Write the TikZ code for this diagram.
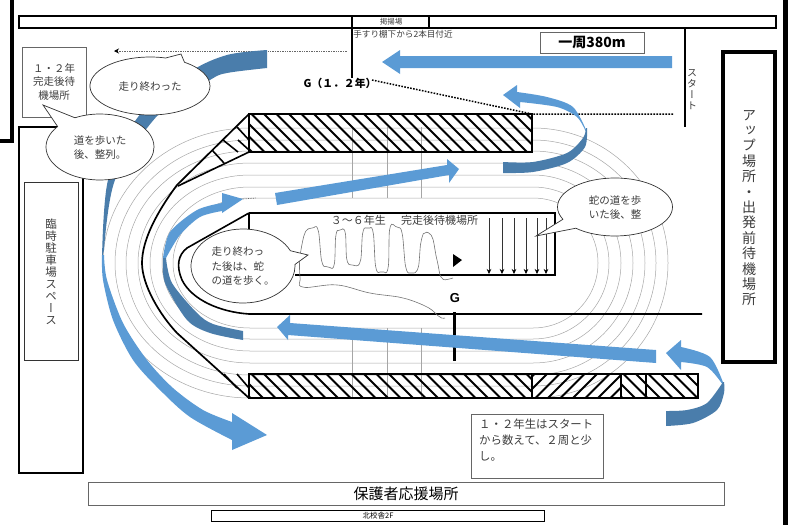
\documentclass[tikz,border=0pt]{standalone}
\usepackage{fontspec}
\setmainfont{Noto Sans CJK JP}
\newfontfamily\latinfont{Liberation Sans}
\newfontfamily\jpvert[RawFeature={+vert}]{Noto Sans CJK JP}
\usetikzlibrary{shapes.callouts,arrows.meta}
\definecolor{ribbonlight}{HTML}{5B9BD5}
\definecolor{ribbondark}{HTML}{4A7DAB}
\definecolor{inkgray}{HTML}{3C3C3C}
\newcommand{\hatchbox}[5]{\begin{scope}
\clip (#1,#2) rectangle (#3,#4);
\foreach \hx in {-60,-47.5,...,480} \draw[hatchline] ({#1+\hx},#2) -- ({#1+\hx+#5*(#4-#2)},#4);
\end{scope}}
\newcommand{\fsize}[1]{\fontsize{#1}{#1}\selectfont}
\tikzset{
  lane/.style={draw=black!35,line width=0.5pt},
  hatchline/.style={line width=1.9pt},
  outline/.style={line width=2.4pt},
  heavyframe/.style={draw,line width=2.6pt,inner sep=0pt},
  grayframe/.style={draw=black!60,line width=1pt,inner sep=0pt,text=inkgray},
  bubble/.style={ellipse callout,draw=black!80,fill=white,line width=0.7pt,inner sep=0pt,align=left,text=inkgray,font=\fsize{10.5},text depth=0pt},
}
\begin{document}
\begin{tikzpicture}[x=1pt,y=-1pt]
\useasboundingbox (0,0) rectangle (794,525);
\foreach \ry in {65,76,88,100,112,123,135}
  \draw[lane] (250,{263-\ry}) -- (533,{263-\ry}) arc[start angle=-90,end angle=90,x radius=\ry,y radius=\ry] -- (250,{263+\ry}) arc[start angle=90,end angle=270,x radius=\ry+12,y radius=\ry];
\foreach \gx in {352,387,421} {
  \draw[lane] (\gx,127) -- (\gx,198);
  \draw[lane] (\gx,328) -- (\gx,398);
}
\hatchbox{249}{114}{532}{152}{1}
\draw[outline] (249,114) rectangle (532,152);
\hatchbox{249}{374}{532}{398}{1}
\hatchbox{532}{374}{621}{398}{-1}
\hatchbox{621}{374}{646}{398}{1}
\hatchbox{646}{374}{698}{398}{1}
\draw[outline] (249,374) rectangle (698,398);
\draw[line width=1.5pt] (532,374) -- (532,398) (621,374) -- (621,398) (646,374) -- (646,398);
\draw[line width=1.6pt] (212,150) -- (224,163) (223,140) -- (238,152) (237,127) -- (249,140) (238,140) -- (249,150) (224,374) -- (237,388) (237,374) -- (249,388);
\draw[line width=1.6pt] (249,152) -- (178,186);
\draw[line width=1.7pt] (249,114) -- (177,185) .. controls (157,212) and (142,240) .. (142,263) .. controls (142,285) and (160,315) .. (177,333) -- (249,398);
\draw[line width=1.6pt] (249,213) -- (555,213) -- (555,275) -- (295,275);
\draw[line width=1.6pt] (249,213) -- (249,232);
\draw[line width=1.6pt] (249,213) -- (187,248) .. controls (178,255) and (176,266) .. (182,280) .. controls (192,300) and (220,312) .. (249,314) -- (702,314);
\draw[line width=3pt] (454,312) -- (454,361);
\node[font=\latinfont\bfseries\fsize{13}] (goalmark) at (455,298) {G};
\fill (453,254) -- (462,260) -- (453,267) -- cycle;
\foreach \ax in {489,502,514,526,537,546}
  \draw[black!80,line width=0.5pt,-{Stealth[length=5pt,width=4.5pt,black]}] (\ax,218) -- (\ax,274);
\draw[black!55,line width=0.6pt,rounded corners=2pt] plot[smooth,tension=0.55] coordinates {(453,278)(442,278)(437,260)(432,237)(425,233)(421,242)(418,268)(412,273)(406,268)(402,233)(397,227)(390,228)(388,268)(382,272)(376,268)(373,232)(368,228)(363,232)(360,262)(352,265)(347,260)(345,232)(340,230)(336,235)(334,265)(328,267)(322,262)(318,230)(312,228)(305,233)(300,257)(300,277)(303,287)(337,285)(370,293)(403,298)(427,307)(440,317)(445,318)};
\node[font=\fsize{11},text=inkgray] (innerlabel) at (404.5,220) {３〜６年生\hspace{1.4em}完走後待機場所};

\draw[outline] (19,16) rectangle (776,28);
\draw[outline] (352,16) -- (352,28) (429,16) -- (429,28);
\node[font=\fsize{7.5},text=inkgray] (flagarea) at (391,21.5) {掲揚場};
\node[font=\fsize{8.6},text=inkgray] (railnote) at (403,34) {手すり棚下から2本目付近};
\draw[line width=1.5pt] (352,28) -- (352,78);
\draw[line width=1.5pt] (685,28) -- (685,127);
\draw[line width=1.5pt,dash pattern=on 1.6pt off 1.4pt] (372,80) -- (532,114) -- (673,114);
\draw[black!60,line width=0.7pt,densely dotted,-{Stealth[length=5pt,width=5pt,black]}] (347,51) -- (114,51);
\draw[black!60,line width=0.7pt,densely dotted] (243,199) -- (256,198);
\node[font=\bfseries\fsize{10.8}] (goalfirst) at (340,83) {G（１．２年）};
\node[font=\jpvert\fsize{10},align=center,text=inkgray] (startlabel) at (692,90) {ス\\[1pt]タ\\[1pt]ー\\[1pt]ト};
\node[grayframe,minimum width=104pt,minimum height=21pt,font=\bfseries\fsize{14},text=black] (lapbox) at (592,42.5) {一周380m};

\draw[line width=3.5pt] (12,0) -- (12,141) -- (0,141);
\draw[line width=5pt] (785.5,0) -- (785.5,525);
\node[heavyframe,line width=3.5pt,minimum width=52pt,minimum height=310pt] (warmupbox) at (749,207) {};
\node[font=\jpvert\fsize{14},align=center,text=inkgray] (warmuptext) at (749,208) {ア\\[1.4pt]ッ\\[1.4pt]プ\\[1.4pt]場\\[1.4pt]所\\[1.4pt]・\\[1.4pt]出\\[1.4pt]発\\[1.4pt]前\\[1.4pt]待\\[1.4pt]機\\[1.4pt]場\\[1.4pt]所};
\node[heavyframe,minimum width=64pt,minimum height=346pt] (parkframe) at (51,300) {};
\node[draw=black!80,line width=0.8pt,minimum width=54pt,minimum height=178pt,inner sep=0pt] (parkbox) at (51,271) {};
\node[font=\jpvert\fsize{11.5},align=center,text=inkgray] (parktext) at (51,272) {臨\\[0.5pt]時\\[0.5pt]駐\\[0.5pt]車\\[0.5pt]場\\[0.5pt]ス\\[0.5pt]ペ\\[0.5pt]ー\\[0.5pt]ス};
\node[grayframe,minimum width=64pt,minimum height=70pt,align=center,font=\fsize{10.5}] (waitbox) at (54,82) {１・２年\\[3pt]完走後待\\[3pt]機場所};
\node[grayframe,minimum width=132pt,minimum height=64pt] (notebox) at (537,446) {};
\node[anchor=north west,inner sep=0pt,align=left,font=\fsize{11.4},text=inkgray] (notetext) at (479,419) {１・２年生はスタート\\[4.6pt]から数えて、２周と少\\[4.6pt]し。};
\node[grayframe,minimum width=636pt,minimum height=23pt,font=\fsize{15},text=black] (parentbox) at (406,493.5) {保護者応援場所};
\node[draw,line width=1.4pt,minimum width=333pt,minimum height=11.5pt,inner sep=0pt,font=\fsize{7.5}] (schoolbox) at (378,516) {北校舎2F};

\fill[ribbondark] plot[smooth] coordinates {(267,50)(227,55)(190,72)(138,117)(108,180)(102,258)} -- plot[smooth] coordinates {(104,250)(115,180)(158,115)(210,80)(227,73)(267,68)} -- cycle;
\fill[ribbonlight] plot[smooth] coordinates {(102,255)(103,280)(113,320)(133,360)(160,390)(190,417)(232,440)} -- (232,450) -- (267,435) -- (232,413) -- plot[smooth] coordinates {(232,422)(203,410)(173,388)(147,360)(123,323)(107,280)(104,255)} -- cycle;
\fill[ribbonlight] plot[smooth] coordinates {(163,258)(170,232)(197,210)(222,203)} -- (222,193) -- (243,199) -- (222,213) -- plot[smooth] coordinates {(222,211)(200,217)(180,235)(166,258)} -- cycle;
\fill[ribbondark] plot[smooth] coordinates {(163,258)(165,283)(187,320)(210,333)(243,340)} -- plot[smooth] coordinates {(243,331)(213,324)(197,313)(172,283)(166,258)} -- cycle;
\fill[ribbonlight] (275,193) -- (447,165) -- (447,159) -- (459,169) -- (449,183) -- (449,175) -- (277,205) -- cycle;
\fill[ribbonlight] plot[smooth] coordinates {(587,132)(573,107)(547,97)(517,92)} -- (517,85) -- (503,95) -- (520,108) -- plot[smooth] coordinates {(520,102)(557,107)(577,117)(586,132)} -- cycle;
\fill[ribbondark] plot[smooth] coordinates {(587,128)(585,147)(567,163)(533,172)(503,173)} -- plot[smooth] coordinates {(503,162)(533,162)(567,153)(583,138)(586,128)} -- cycle;
\fill[ribbonlight] (672,56) -- (400,56) -- (400,50) -- (382,62) -- (400,74) -- (400,68) -- (672,68) -- cycle;
\fill[ribbonlight] (656,350) -- (290,323) -- (290,315) -- (277,327) -- (288,340) -- (288,335) -- (656,363) -- cycle;
\fill[ribbonlight] plot[smooth] coordinates {(724,385)(710,357)(681,347)} -- (681,340) -- (666,353) -- (681,370) -- plot[smooth] coordinates {(681,362)(707,367)(723,385)} -- cycle;
\fill[ribbondark] plot[smooth] coordinates {(724,382)(724,393)(717,410)(693,423)(666,426)} -- plot[smooth] coordinates {(666,411)(687,410)(707,403)(723,382)} -- cycle;

\node[bubble,minimum width=120pt,minimum height=58pt,callout absolute pointer={(181,54)},callout pointer arc=20] (finishbubble) at (150,86) {走り終わった};
\node[bubble,minimum width=108pt,minimum height=66pt,callout absolute pointer={(43,105)},callout pointer arc=24] (walkbubble) at (100,147) {道を歩いた\\[4pt]後、整列。};
\node[bubble,minimum width=104pt,minimum height=74pt,callout absolute pointer={(308,255)},callout pointer arc=22] (snakebubble) at (243,266) {走り終わっ\\[4pt]た後は、蛇\\[4pt]の道を歩く。};
\node[bubble,minimum width=115pt,minimum height=58pt,callout absolute pointer={(536,236)},callout pointer arc=22] (lastbubble) at (615,207) {蛇の道を歩\\[4pt]いた後、整};
\end{tikzpicture}
\end{document}
